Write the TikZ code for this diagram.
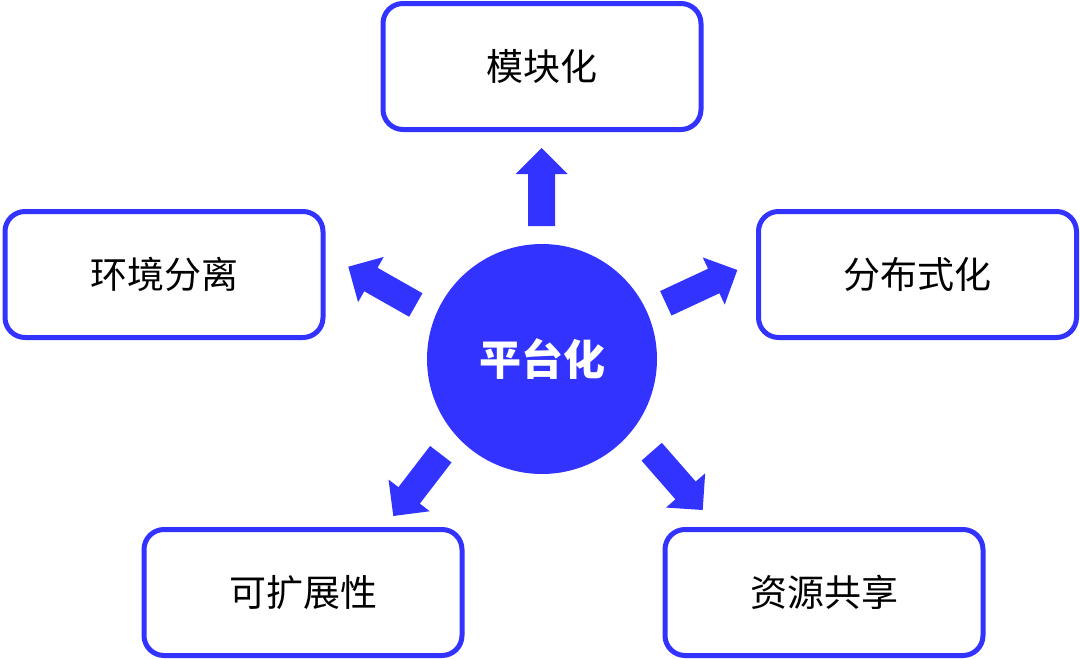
\documentclass[tikz,border=0pt]{standalone}
\usepackage{fontspec}
\newfontfamily\cjk{Noto Sans CJK SC}
\usetikzlibrary{calc}
\definecolor{brandblue}{RGB}{51,51,255}
\tikzset{
  box/.style={draw=brandblue, line width=5pt, rounded corners=20pt,
    minimum width=318pt, minimum height=126pt, inner sep=0pt, fill=white,
    font=\cjk\fontsize{37pt}{40pt}\selectfont, text=black},
  hub/.style={circle, fill=brandblue, minimum size=230pt, inner sep=0pt,
    font=\cjk\bfseries\fontsize{42pt}{46pt}\selectfont, text=white},
  arrowfill/.style={fill=brandblue}
}
\newcommand{\blkarrow}[2]{%
  \path ($(#2)!26pt!(#1)$) coordinate (bm);
  \fill[arrowfill] ($(#1)!13.5pt!90:(#2)$) -- ($(bm)!13.5pt!-90:(#1)$)
    -- ($(bm)!26pt!-90:(#1)$) -- (#2) -- ($(bm)!26pt!90:(#1)$)
    -- ($(bm)!13.5pt!90:(#1)$) -- ($(#1)!13.5pt!-90:(#2)$) -- cycle;
}
\begin{document}
\begin{tikzpicture}[x=1pt, y=-1pt]
\useasboundingbox[fill=white] (0,0) rectangle (1080,659);
\node[hub] (c) at (542,359) {平台化};
\node[box] (top) at (542,66.5) {模块化};
\node[box] (left) at (164,274.5) {环境分离};
\node[box] (right) at (917.5,274.5) {分布式化};
\node[box] (bl) at (303,592.5) {可扩展性};
\node[box] (br) at (824,592.5) {资源共享};
\coordinate (t1) at (541.7,226);   \coordinate (h1) at (541.7,148);
\coordinate (t2) at (415.8,305);   \coordinate (h2) at (348.3,266.7);
\coordinate (t3) at (665.8,303.3); \coordinate (h3) at (737.3,270);
\coordinate (t4) at (440.8,454.2); \coordinate (h4) at (393.3,516);
\coordinate (t5) at (651.7,451.7); \coordinate (h5) at (702.7,510);
\blkarrow{t1}{h1}
\blkarrow{t2}{h2}
\blkarrow{t3}{h3}
\blkarrow{t4}{h4}
\blkarrow{t5}{h5}
\end{tikzpicture}
\end{document}
